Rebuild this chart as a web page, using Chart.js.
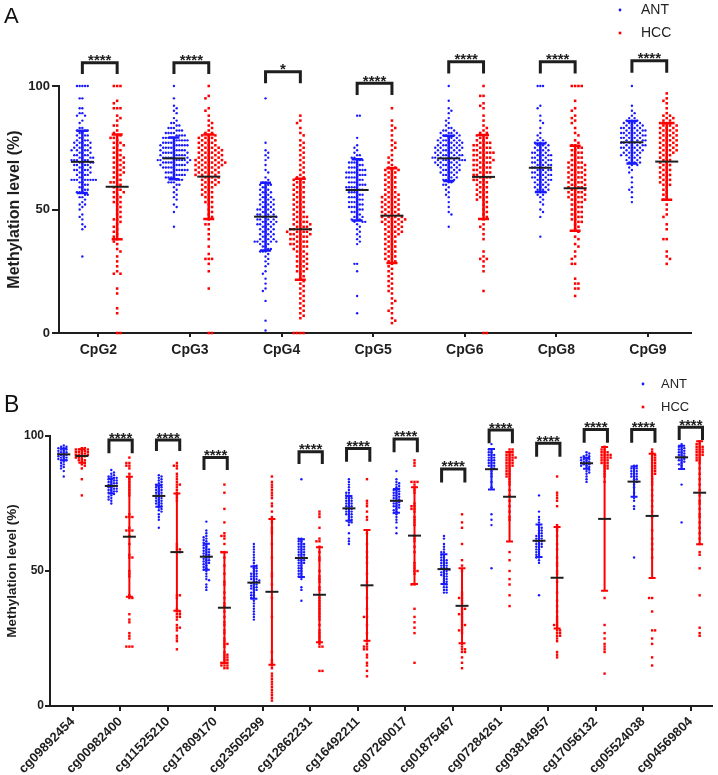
<!DOCTYPE html>
<html><head><meta charset="utf-8">
<script src="https://cdn.jsdelivr.net/npm/chart.js@4.4.1/dist/chart.umd.min.js"></script>
<style>
html,body{margin:0;padding:0;background:#fff;}
#wrapA{position:absolute;left:0;top:0;width:718px;height:360px;}
#wrapB{position:absolute;left:0;top:360px;width:718px;height:415px;}
</style></head><body>
<div id="wrapA"><canvas id="cA" width="718" height="360"></canvas></div>
<div id="wrapB"><canvas id="cB" width="718" height="415"></canvas></div>
<script>
// ---------------- Panel A data ----------------
const catsA = ['CpG2','CpG3','CpG4','CpG5','CpG6','CpG8','CpG9'];
const yTicksA = [0,50,100];
const ANT_CpG2 = [100,100,100,100,100,95,95,91,91,89,89,88,88,86,85,83,83,82,82,82,81,81,80,80,80,79,79,78,78,78,77,77,77,77,76,76,76,75,75,75,75,74,74,74,74,73,73,73,72,72,72,72,71,71,71,71,70,70,70,70,70,69,69,69,69,68,68,68,68,67,67,67,66,66,66,66,65,65,65,64,64,64,63,63,62,62,62,62,62,62,62,62,61,61,60,60,59,59,58,58,57,57,57,56,56,55,55,54,53,52,52,51,50,48,47,46,44,43,42,31];
const HCC_CpG2 = [100,100,100,94,93,91,91,91,88,87,86,84,84,82,81,80,80,79,79,78,77,77,76,76,75,74,74,73,72,72,71,71,70,70,69,69,68,68,67,67,66,66,65,65,64,64,63,62,62,61,61,60,60,59,58,58,57,57,56,55,55,54,53,53,52,51,50,49,48,47,46,46,45,44,43,42,41,40,39,38,37,36,34,33,31,29,27,25,24,24,18,16,10,8,0,0];
const ANT_CpG3 = [100,95,92,91,90,89,87,86,85,85,84,84,83,83,83,82,82,82,81,81,81,81,80,80,80,80,79,79,79,79,79,78,78,78,78,78,77,77,77,77,77,76,76,76,76,76,76,75,75,75,75,75,74,74,74,74,74,73,73,73,73,73,73,72,72,72,72,72,71,71,71,71,71,71,70,70,70,70,70,70,70,69,69,69,69,69,69,68,68,68,68,68,67,67,67,67,67,66,66,66,66,66,65,65,65,65,64,64,64,64,63,63,63,63,62,62,62,61,61,61,60,60,59,58,57,56,55,54,52,51,49,43];
const HCC_CpG3 = [100,96,95,91,90,88,86,85,84,83,82,81,81,80,80,80,79,79,79,78,78,78,77,77,77,76,76,76,75,75,75,75,74,74,74,74,73,73,73,73,72,72,72,72,71,71,71,71,70,70,70,70,70,69,69,69,69,69,68,68,68,68,68,67,67,67,67,66,66,66,66,65,65,65,65,64,64,64,64,63,63,63,62,62,62,61,61,61,60,60,60,59,59,58,58,57,57,56,56,55,55,54,53,53,52,51,50,49,48,47,46,44,44,42,40,38,35,32,30,30,30,28,25,18,0,0];
const ANT_CpG4 = [95,77,74,73,72,71,70,68,66,65,63,62,61,61,60,60,60,59,59,58,58,57,57,57,56,56,55,55,55,54,54,54,53,53,53,52,52,52,51,51,51,50,50,50,50,49,49,49,48,48,48,48,47,47,47,47,46,46,46,46,45,45,45,45,44,44,44,44,43,43,43,42,42,42,41,41,41,40,40,40,39,39,39,38,38,38,37,37,37,37,37,37,36,36,35,35,34,34,33,33,33,32,31,30,29,28,27,25,24,22,20,18,17,13,5,1];
const HCC_CpG4 = [88,86,85,83,81,80,78,77,76,75,74,73,72,71,70,69,68,67,66,65,64,63,63,62,62,61,61,60,60,59,59,58,58,57,57,56,56,55,55,54,54,53,53,52,52,51,51,50,50,49,49,48,48,47,47,47,46,46,45,45,45,44,44,44,43,43,43,42,42,42,42,41,41,41,41,40,40,40,40,39,39,39,38,38,38,37,37,37,36,36,36,35,35,35,34,34,33,33,32,32,31,31,30,30,29,29,28,28,27,27,26,26,25,25,24,23,22,21,20,19,18,17,16,15,14,13,12,11,10,9,8,7,6,0,0,0,0];
const ANT_CpG5 = [88,88,79,76,75,74,73,72,72,71,71,70,70,70,69,69,69,68,68,68,67,67,67,66,66,66,66,65,65,65,65,64,64,64,64,63,63,63,63,62,62,62,61,61,61,60,60,60,60,59,59,59,59,58,58,58,57,57,57,56,56,56,55,55,55,54,54,54,53,53,53,52,52,52,51,51,51,50,50,50,49,49,48,48,47,47,46,46,46,45,45,45,44,43,42,41,40,39,38,37,36,28,28,25,15,8];
const HCC_CpG5 = [91,86,84,83,82,80,78,77,76,75,74,72,71,70,69,68,67,67,66,66,66,65,65,64,64,63,63,62,62,61,61,60,60,59,59,58,58,57,57,56,56,56,55,55,55,54,54,54,53,53,53,52,52,52,51,51,51,50,50,50,49,49,49,48,48,48,47,47,47,47,46,46,46,46,45,45,45,45,44,44,44,43,43,43,42,42,42,41,41,41,40,40,40,39,39,38,38,37,37,36,36,35,35,34,34,33,33,32,32,31,31,30,30,29,29,28,27,26,25,24,23,22,21,20,19,18,17,16,14,13,12,10,9,8,6,5,4];
const ANT_CpG6 = [100,94,91,90,89,87,86,85,84,83,83,82,82,82,81,81,81,81,80,80,80,80,79,79,79,79,78,78,78,78,78,77,77,77,77,77,76,76,76,76,76,75,75,75,75,75,75,74,74,74,74,74,73,73,73,73,73,72,72,72,72,72,72,71,71,71,71,71,71,70,70,70,70,70,70,70,69,69,69,69,69,68,68,68,68,68,67,67,67,67,66,66,66,66,65,65,65,65,64,64,64,63,63,63,62,62,62,61,61,60,60,59,58,57,56,55,53,51,49,48,43];
const HCC_CpG6 = [100,96,96,93,92,91,88,86,84,83,82,81,81,80,80,79,79,78,78,77,77,77,76,76,76,75,75,75,74,74,74,73,73,73,73,72,72,72,71,71,71,70,70,70,70,69,69,69,68,68,68,67,67,67,66,66,66,65,65,65,64,64,64,63,63,63,62,62,62,61,61,60,60,59,59,58,58,57,57,56,56,55,55,54,54,53,52,51,50,49,48,47,46,44,43,42,40,38,33,31,30,30,29,27,25,17,0,0];
const ANT_CpG8 = [100,100,100,92,91,88,86,85,83,81,80,79,78,78,77,77,77,76,76,76,75,75,75,74,74,74,73,73,73,73,72,72,72,72,71,71,71,71,70,70,70,70,69,69,69,69,68,68,68,68,67,67,67,67,66,66,66,66,65,65,65,65,64,64,64,64,63,63,63,63,62,62,62,62,61,61,61,60,60,60,59,59,59,58,58,58,57,57,56,56,55,54,53,52,50,49,47,39];
const HCC_CpG8 = [100,100,100,100,94,91,90,88,87,86,85,83,81,80,78,77,76,76,75,75,74,74,73,73,72,72,71,71,70,70,69,69,69,68,68,68,67,67,67,66,66,66,65,65,65,64,64,64,63,63,63,62,62,62,61,61,61,60,60,60,59,59,59,58,58,58,57,57,57,56,56,56,55,55,55,54,54,54,53,53,52,52,51,51,50,50,49,49,48,48,47,47,46,46,45,45,44,43,42,41,39,38,36,35,33,31,30,28,28,22,20,20,18,18,15];
const ANT_CpG9 = [100,92,90,89,88,87,87,86,86,86,85,85,85,85,84,84,84,84,83,83,83,83,83,82,82,82,82,82,81,81,81,81,81,80,80,80,80,80,79,79,79,79,79,78,78,78,78,78,77,77,77,77,77,76,76,76,76,76,75,75,75,75,75,74,74,74,74,73,73,73,73,72,72,72,72,71,71,71,70,70,70,69,69,69,68,68,67,66,65,63,61,59,58,57,55,53];
const HCC_CpG9 = [97,95,94,93,91,89,88,88,87,87,86,86,85,85,85,84,84,84,83,83,83,82,82,82,81,81,81,80,80,80,79,79,79,78,78,78,77,77,77,76,76,76,75,75,75,74,74,74,73,73,73,72,72,71,71,70,70,69,69,68,68,67,67,66,66,65,65,64,64,63,63,62,62,61,61,60,60,59,58,57,56,55,54,52,50,48,47,44,42,38,38,33,31,30,28];
const meanAntA = [69.3, 70.7, 47.1, 57.9, 70.7, 66.9, 77.2];
const sdAntA   = [12.6, 8.5, 13.7, 12.4, 9.2, 9.8, 8.6];
const meanHccA = [59.2, 63.3, 42.0, 47.5, 63.2, 58.6, 69.4];
const sdHccA   = [21.2, 17.1, 20.4, 19.2, 17.0, 17.2, 15.5];
const sigA = ['****','****','*','****','****','****','****'];
const bracketTopA = [109.4, 109.4, 105.8, 101.1, 109.8, 109.8, 110.2];
const bracketLegA = [104.9, 104.9, 101.1, 96.4, 105.1, 105.1, 105.4];

// ---------------- Panel B data ----------------
const catsB = ['cg09892454','cg00982400','cg11525210','cg17809170','cg23505299','cg12862231','cg16492211','cg07260017','cg01875467','cg07284261','cg03814957','cg17056132','cg05524038','cg04569804'];
const yTicksB = [0,50,100];
const ANT_cg09892454 = [96.5,96,96,95.5,95.5,95,95,94.5,94.5,94,94,93.5,93.5,93,93,92.5,92.5,92,92,91.5,91.5,91,91,90.5,90,89.5,89,88.5,88,87,85];
const HCC_cg09892454 = [95.5,95.5,95,95,95,94.5,94.5,94,94,94,93.5,93.5,93,93,93,92.5,92.5,92,92,91.5,91,91,90.5,90,89.5,89,88,84,78];
const ANT_cg00982400 = [87.4,86.5,86,85.5,85,85,84.5,84.5,84,84,83.5,83.5,83,83,82.5,82.5,82,82,81.5,81.5,81,81,80.5,80.5,80,80,79.5,79.5,79,79,78.5,78,77.5,77,76.5,76,75];
const HCC_cg00982400 = [92,90,90,89,89,88,86,85,84,83,82,81,80,79,78,71,70,70,70,66,65,65,65,63,60,56,55,55,50,49,48,41,40,40,34,32,31,27,26,25,22,22,22];
const ANT_cg11525210 = [85.5,85,84.5,84,83.5,83,82.5,82,82,81.5,81,81,80.5,80,80,79.5,79,79,78.5,78,78,77.5,77,77,76.5,76,76,75.5,75,75,74.5,74,73.5,73,72.5,72,71,70,69,66];
const HCC_cg11525210 = [90,89,89,88,86,85,84,83,82,82,81,80,79,78,77,76,60,59,58,58,57,57,41,41,40,36,35,35,34,34,33,33,32,30,29,29,28,26,25,24,21];
const ANT_cg17809170 = [68.3,65,64,63,62.5,62,61.5,61,60.5,60,59.5,59,58.5,58,58,57.5,57,57,56.5,56,56,55.5,55,55,54.5,54,54,53.5,53,53,52.5,52,51.5,51,50.5,50,49,48,47,46.6,45,44,43];
const HCC_cg17809170 = [82,79,73,68,64,63,63,62,60,57,57,55,52,49,46,45,42,40,38,37,35,33,31,30,28,27,25,24,23,23,22,20,19,19,18,18,17,17,16,16,16,15,15,15,14,14];
const ANT_cg23505299 = [60,59,58,57,56,55,54,53,52,52,51,51,50,50,49,49,49,48,48,48,47,47,47,46.5,46,46,45.5,45,45,44.5,44,44,43.5,43,43,42,42,41,41,40,40,39,38,37,36,35,34,33,32];
const HCC_cg23505299 = [85,83,82,81,80,79,78,77,75,74,72,70,69,68,66,65,64,60,55,49,48,45,40,33,20,17,16,15,14,12,11,10,9,8,7,6,5,4,3,2];
const ANT_cg12862231 = [84,62,62,61,61,60,60,60,59,59,59,58,58,58,57,57,57,56,56,56,55,55,55,54,54,54,53,53,53,52,52,51,51,50,50,49,49,48,48,47,44,43,39];
const HCC_cg12862231 = [72,71,70,66,62,61,61,59,57,55,54,50,48,47,46,44,43,41,40,39,38,37,36,35,34,33,32,30,28,27,26,25,24,23,22,22,13,13];
const ANT_cg16492211 = [84,83,82,81,80,79,79,78,78,77,77,77,76,76,76,75,75,75,74,74,74,73,73,73,72,72,72,71,71,71,70,70,69,69,68,68,67,64,62,61,60];
const HCC_cg16492211 = [84,76,75,74,72,70,69,64,60,57,55,53,49,46,44,40,36,33,33,30,27,24,23,22,22,21,21,19,18,16,15,13,11];
const ANT_cg07260017 = [87,84,83,82.5,82,81.5,81,80.5,80,80,79.5,79,79,78.5,78,78,77.5,77,77,76.5,76,76,75.5,75,75,74.5,74,74,73.5,73,72.5,72,71.5,71,70,69,68,66,64];
const HCC_cg07260017 = [91,90,89,83,83,83,82,81,80,79,75,74,74,73,73,72,70,69,68,67,63,62,61,59,57,53,52,51,50,50,49,45,45,36,33,31,29,27,16];
const ANT_cg01875467 = [63,62,60,59,58,57,57,56,56,55,55,54,54,54,53,53,53,52,52,52,51,51,51,50.5,50,50,49.5,49,49,48.5,48,48,47,47,46,46,45,45,44,44,43,43,42,42];
const HCC_cg01875467 = [71,68,66,60,54,52,50,42,41,40,40,39,38,37,36,36,35,34,34,33,32,31,30,30,29,28,28,27,23,22,21,21,20,20,18,16,14];
const ANT_cg07284261 = [97,95,95,94,94,93,93,93,92,92,92,91,91,91,90,90,90,89,89,89,88,88,87,86,85,83,81,71,69,67,51];
const HCC_cg07284261 = [95,95,94,94,94,93,93,93,92,92,92,92,91,91,91,90,90,90,89,89,89,88,88,87,87,86,86,85,85,84,83,82,80,78,76,74,72,70,69,57,54,50,47,45,41,37];
const ANT_cg03814957 = [78,72,70,69,68,67,66,66,65,65,64,64,63,63,63,62,62,62,61,61,61,60,60,60,59,59,59,58,58,57,57,56,56,55,55,54,53,41];
const HCC_cg03814957 = [85,79,78,77,76,74,67,66,65,63,60,58,55,53,52,50,49,46,42,39,37,35,33,32,31,30,30,29,28,28,27,27,26,26,25,24,20,19,18];
const ANT_cg17056132 = [94,93.5,93,92.5,92.5,92,92,91.5,91.5,91,91,90.5,90.5,90,90,89.5,89.5,89,89,88.5,88,87.5,87,86.5,86,85,84,83];
const HCC_cg17056132 = [96,95,95,94,94,94,93,93,93,93,92,92,92,92,91,91,91,90,90,90,89,89,88,88,87,86,85,83,40,30,27,25,23,22,21,20,12];
const ANT_cg05524038 = [89,89,88,88,88,87,87,87,86,86,86,85,85,85,84,84,83,83,82,81,79,77,76,74,73,55];
const HCC_cg05524038 = [95,94,93,93,92,92,91,91,90,90,89,89,88,88,87,87,86,86,85,84,83,82,80,78,76,74,72,70,65,62,60,58,55,40,40,35,28,28,25,23,18,15];
const ANT_cg04569804 = [97,96,96,95.5,95,95,94.5,94,94,93.5,93,93,92.5,92,92,91.5,91,91,90.5,90,89.5,89,88,82,68];
const HCC_cg04569804 = [98,97,97,96,96,96,95,95,95,94,94,94,93,93,93,92,92,91,91,90,88,86,84,82,80,78,76,75,73,71,70,68,66,64,62,60,57,56,51,41,29,27,26];
const meanAntB = [93.2, 81.5, 77.8, 55.3, 45.7, 54.8, 73.2, 76.0, 50.7, 87.7, 61.2, 89.9, 83.1, 92.1];
const sdAntB   = [2.2, 2.8, 4.0, 4.8, 6.0, 7.0, 4.6, 4.4, 5.5, 7.5, 6.0, 2.0, 5.6, 4.3];
const meanHccB = [92.6, 62.7, 57.0, 36.4, 42.3, 41.2, 44.7, 63.1, 37.1, 77.5, 47.5, 69.3, 70.4, 79.0];
const sdHccB   = [2.5, 22.2, 21.7, 20.5, 27.0, 17.6, 20.5, 17.9, 13.9, 16.6, 18.8, 26.6, 23.0, 19.1];
const sigB = ['','****','****','****','','****','****','****','****','****','****','****','****','****'];
const bracketTopB = [null, 98.5, 98.5, 92.0, null, 94.2, 95.4, 98.9, 87.8, 102.2, 97.3, 102.4, 102.4, 103.2];
const bracketLegB = [null, 93.6, 94.4, 87.4, null, 89.6, 90.5, 94.0, 82.8, 97.3, 92.3, 97.5, 97.5, 98.5];

const antGroupsA = [ANT_CpG2, ANT_CpG3, ANT_CpG4, ANT_CpG5, ANT_CpG6, ANT_CpG8, ANT_CpG9];
const hccGroupsA = [HCC_CpG2, HCC_CpG3, HCC_CpG4, HCC_CpG5, HCC_CpG6, HCC_CpG8, HCC_CpG9];
const antGroupsB = [ANT_cg09892454, ANT_cg00982400, ANT_cg11525210, ANT_cg17809170, ANT_cg23505299, ANT_cg12862231, ANT_cg16492211, ANT_cg07260017, ANT_cg01875467, ANT_cg07284261, ANT_cg03814957, ANT_cg17056132, ANT_cg05524038, ANT_cg04569804];
const hccGroupsB = [HCC_cg09892454, HCC_cg00982400, HCC_cg11525210, HCC_cg17809170, HCC_cg23505299, HCC_cg12862231, HCC_cg16492211, HCC_cg07260017, HCC_cg01875467, HCC_cg07284261, HCC_cg03814957, HCC_cg17056132, HCC_cg05524038, HCC_cg04569804];

// ---------------- drawing ----------------
const FONT = 'Arial, "Liberation Sans", Helvetica, sans-serif';
const BLUE = 'rgb(25,25,255)';
const RED = 'rgb(255,0,0)';
const INK = '#1e1e1e';

// beeswarm layout in pixel space: each point goes to the nearest free slot beside its value
function swarm(groups, off, D, vT, ppu, ys) {
  const pts = [];
  groups.forEach((vals, gi) => {
    const sorted = vals.slice().sort((a, b) => b - a);
    const placed = [];
    sorted.forEach((v, idx) => {
      const py = ys.getPixelForValue(v);
      let chosen = 0;
      for (let k = 0; k < 60; k++) {
        const cands = k === 0 ? [0] : (idx % 2 ? [k * D, -k * D] : [-k * D, k * D]);
        let found = null;
        for (const cx of cands) {
          let ok = true;
          for (const p of placed) {
            if (Math.abs(p.py - py) < vT && Math.abs(p.px - cx) < D * 0.95) { ok = false; break; }
          }
          if (ok) { found = cx; break; }
        }
        if (found !== null) { chosen = found; break; }
      }
      placed.push({px: chosen, py});
      pts.push({x: gi + off + chosen / ppu, y: v});
    });
  });
  return pts;
}

function annotPlugin(c) {
  return {
    id: 'annot' + c.letter,
    afterDatasetsDraw(chart) {
      const ctx = chart.ctx, xs = chart.scales.x, ys = chart.scales.y;
      ctx.save();
      c.cats.forEach((cat, i) => {
        [[c.antOff, c.meanAnt[i], c.sdAnt[i], BLUE], [c.hccOff, c.meanHcc[i], c.sdHcc[i], RED]].forEach(([off, m, sd, col]) => {
          const px = xs.getPixelForValue(i + off);
          const yt = ys.getPixelForValue(m + sd), yb = ys.getPixelForValue(m - sd), ym = ys.getPixelForValue(m);
          ctx.strokeStyle = col; ctx.lineWidth = c.barW; ctx.lineCap = 'butt';
          ctx.beginPath();
          ctx.moveTo(px, yt); ctx.lineTo(px, yb);
          ctx.moveTo(px - c.capW / 2, yt); ctx.lineTo(px + c.capW / 2, yt);
          ctx.moveTo(px - c.capW / 2, yb); ctx.lineTo(px + c.capW / 2, yb);
          ctx.stroke();
          ctx.strokeStyle = INK; ctx.lineWidth = c.meanLW;
          ctx.beginPath(); ctx.moveTo(px - c.meanW / 2, ym); ctx.lineTo(px + c.meanW / 2, ym); ctx.stroke();
        });
        if (c.sig[i]) {
          const x1 = xs.getPixelForValue(i + c.brL), x2 = xs.getPixelForValue(i + c.brR);
          const yt = ys.getPixelForValue(c.brTop[i]), yl = ys.getPixelForValue(c.brLeg[i]);
          ctx.strokeStyle = INK; ctx.lineWidth = 3; ctx.lineJoin = 'miter';
          ctx.beginPath(); ctx.moveTo(x1, yl); ctx.lineTo(x1, yt); ctx.lineTo(x2, yt); ctx.lineTo(x2, yl); ctx.stroke();
          ctx.fillStyle = INK; ctx.font = 'bold 15px ' + FONT; ctx.textAlign = 'center'; ctx.textBaseline = 'alphabetic';
          ctx.fillText(c.sig[i], (x1 + x2) / 2, yt + 2.5);
        }
      });
      ctx.restore();
    },
    afterDraw(chart) {
      const ctx = chart.ctx;
      ctx.save();
      ctx.fillStyle = '#111'; ctx.textAlign = 'left'; ctx.textBaseline = 'alphabetic';
      ctx.font = c.letterFont + ' ' + FONT;
      ctx.fillText(c.letter, c.letterX, c.letterY);
      ctx.font = c.legFont + ' ' + FONT; ctx.textBaseline = 'middle';
      ctx.fillStyle = BLUE; ctx.beginPath(); ctx.arc(c.legX, c.legY1, 1.4, 0, Math.PI * 2); ctx.fill();
      ctx.fillStyle = RED; ctx.fillRect(c.legX - 1.3, c.legY2 - 1.3, 2.6, 2.6);
      ctx.fillStyle = '#222';
      ctx.fillText('ANT', c.legTX, c.legY1);
      ctx.fillText('HCC', c.legTX, c.legY2);
      ctx.restore();
    }
  };
}

function makeChart(id, c) {
  const chart = new Chart(document.getElementById(id), {
    type: 'scatter',
    data: { datasets: [
      { label: 'ANT', data: [], pointStyle: 'circle', pointRadius: c.antR, backgroundColor: BLUE, borderWidth: 0, clip: false },
      { label: 'HCC', data: [], pointStyle: 'rect', pointRadius: c.hccR, backgroundColor: RED, borderWidth: 0, clip: false }
    ]},
    options: {
      responsive: false, animation: false, events: [],
      layout: { padding: c.padding },
      plugins: { legend: { display: false }, tooltip: { enabled: false } },
      scales: {
        x: {
          type: 'linear', min: c.xMin, max: c.xMax,
          afterBuildTicks: s => { s.ticks = c.cats.map((t, i) => ({ value: i })); },
          afterFit: s => { s.height = c.xH; },
          ticks: { callback: v => c.cats[v] ?? '', autoSkip: false, minRotation: c.rot, maxRotation: c.rot,
                   font: { family: FONT, size: c.xFont, weight: 'bold' }, color: INK, padding: c.xPad },
          grid: { drawOnChartArea: false, drawTicks: true, tickLength: c.xTick, color: INK, lineWidth: 2 },
          border: { display: true, color: INK, width: 2 }
        },
        y: {
          min: 0, max: 100,
          afterBuildTicks: s => { s.ticks = c.yTicks.map(v => ({ value: v })); },
          afterFit: s => { s.width = c.yW; },
          ticks: { font: { family: FONT, size: c.yFont, weight: 'bold' }, color: INK, padding: c.yPad },
          grid: { drawOnChartArea: false, drawTicks: true, tickLength: c.yTick, color: INK, lineWidth: 2 },
          border: { display: true, color: INK, width: 2 },
          title: { display: true, text: 'Methylation level (%)', color: INK,
                   font: { family: FONT, size: c.titleFont, weight: 'bold' }, padding: { top: c.titlePad, bottom: 0 } }
        }
      }
    },
    plugins: [annotPlugin(c)]
  });
  const xs = chart.scales.x, ys = chart.scales.y;
  const ppu = xs.getPixelForValue(1) - xs.getPixelForValue(0);
  chart.data.datasets[0].data = swarm(c.ant, c.antOff, c.dAnt, c.vAnt, ppu, ys);
  chart.data.datasets[1].data = swarm(c.hcc, c.hccOff, c.dHcc, c.vHcc, ppu, ys);
  chart.update();
  return chart;
}

makeChart('cA', {
  letter: 'A', letterFont: '22px', letterX: 4, letterY: 23,
  legFont: '14px', legX: 620, legTX: 641, legY1: 10, legY2: 33,
  cats: catsA, yTicks: yTicksA, ant: antGroupsA, hcc: hccGroupsA,
  meanAnt: meanAntA, sdAnt: sdAntA, meanHcc: meanHccA, sdHcc: sdHccA,
  sig: sigA, brTop: bracketTopA, brLeg: bracketLegA, brL: -0.175, brR: 0.205,
  antOff: -0.175, hccOff: 0.205, dAnt: 2.7, dHcc: 3.3, vAnt: 2.57, vHcc: 3.1, antR: 1.2, hccR: 1.8,
  barW: 2.5, capW: 11, meanW: 23, meanLW: 2,
  padding: { top: 86, right: 27, left: 0, bottom: 0 },
  xMin: -0.43, xMax: 6.47, xH: 27, xFont: 14, xPad: 5, xTick: 4, rot: 0,
  yW: 59, yFont: 13, yPad: 2, yTick: 7, titleFont: 16, titlePad: 5
});

makeChart('cB', {
  letter: 'B', letterFont: '23px', letterX: 4, letterY: 52,
  legFont: '13px', legX: 643, legTX: 661, legY1: 24, legY2: 47,
  cats: catsB, yTicks: yTicksB, ant: antGroupsB, hcc: hccGroupsB,
  meanAnt: meanAntB, sdAnt: sdAntB, meanHcc: meanHccB, sdHcc: sdHccB,
  sig: sigB, brTop: bracketTopB, brLeg: bracketLegB, brL: -0.24, brR: 0.25,
  antOff: -0.19, hccOff: 0.19, dAnt: 2.7, dHcc: 3.0, vAnt: 2.6, vHcc: 2.6, antR: 1.2, hccR: 1.7,
  barW: 2, capW: 7, meanW: 13, meanLW: 2,
  padding: { top: 76, right: 6, left: 0, bottom: 0 },
  xMin: -0.48, xMax: 13.45, xH: 69, xFont: 13, xPad: 3, xTick: 5, rot: 45,
  yW: 50, yFont: 12, yPad: 1, yTick: 5, titleFont: 13.5, titlePad: 4
});
</script>
</body></html>
